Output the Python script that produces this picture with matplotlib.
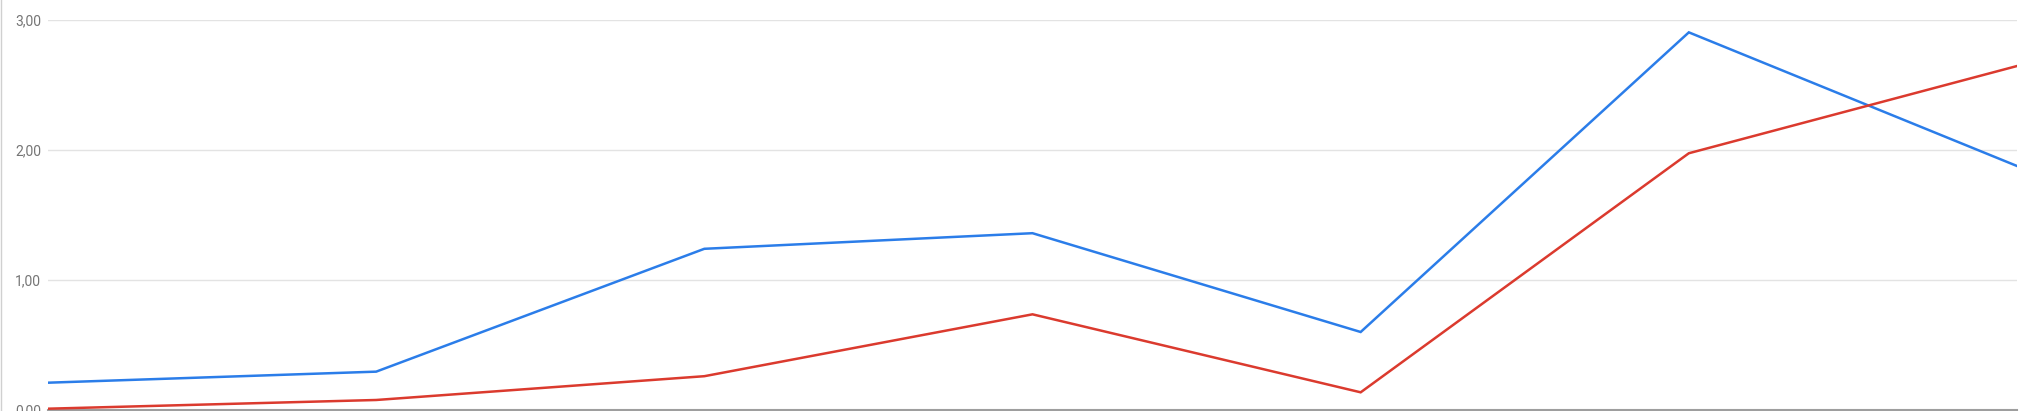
import matplotlib
matplotlib.use("Agg")
import matplotlib.pyplot as plt
from matplotlib.ticker import FuncFormatter
from matplotlib.lines import Line2D

periods = [0, 1, 2, 3, 4, 5, 6]
blue_vals = [0.21, 0.295, 1.24, 1.36, 0.60, 2.905, 1.877]
red_vals = [0.01, 0.077, 0.26, 0.736, 0.136, 1.975, 2.646]
y_ticks = [0, 1, 2, 3]

W, H = 2020, 411
fig = plt.figure(figsize=(W / 100, H / 100), dpi=100)
plt.rcParams['font.family'] = ['Roboto', 'DejaVu Sans']
ax = fig.add_axes([48 / W, 1 / H, (2017 - 48) / W, (410 - 20) / H])

ax.plot(periods, blue_vals, color='#2b7de9', lw=1.8, solid_joinstyle='miter', zorder=3)
ax.plot(periods, red_vals, color='#db3a2e', lw=1.8, solid_joinstyle='miter', zorder=3)

ax.set_xlim(0, 6)
ax.set_ylim(0, 3)
ax.set_yticks(y_ticks)
ax.yaxis.set_major_formatter(FuncFormatter(lambda v, p: f"{v:.2f}".replace('.', ',')))
ax.set_xticks([])
ax.grid(axis='y', color='#e3e3e3', lw=1.0)
ax.tick_params(axis='y', length=0, pad=5, labelsize=10, labelcolor='#757575')
for s in ['top', 'right', 'left']:
    ax.spines[s].set_visible(False)
ax.spines['bottom'].set_color('#9e9e9e')
ax.spines['bottom'].set_linewidth(1.5)
ax.set_axisbelow(True)

# thin border at the left edge of the picture
fig.add_artist(Line2D([0.5 / W, 0.5 / W], [0, 1], color='#d0d0d0', lw=1.0,
                      transform=fig.transFigure))

fig.savefig("out.png", dpi=100)
